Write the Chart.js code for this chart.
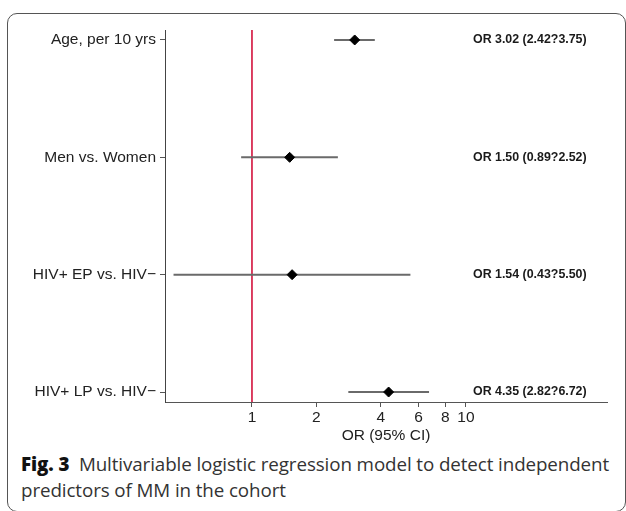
<!DOCTYPE html>
<html>
<head>
<meta charset="utf-8">
<script src="https://cdn.jsdelivr.net/npm/chart.js@4"></script>
<style>
  html, body { margin: 0; padding: 0; background: #fff; }
  #frame {
    position: absolute; left: 7px; top: 13px; width: 619px; height: 499px;
    box-sizing: border-box; border: 1px solid #555; border-radius: 10px;
  }
  #wrap { position: absolute; left: 0; top: 0; width: 626px; height: 450px; }
  #caption {
    position: absolute; left: 21px; top: 451px; white-space: nowrap;
    font-family: "Open Sans", sans-serif; font-size: 18.8px; line-height: 26px; color: #333;
    letter-spacing: -0.1px;
  }
  #caption b { color: #111; font-weight: 800; }
</style>
</head>
<body>
<div id="frame"></div>
<div id="wrap"><canvas id="chartCanvas" width="626" height="450"></canvas></div>
<div id="caption"><b>Fig. 3</b>&nbsp; Multivariable logistic regression model to detect independent<br>predictors of MM in the cohort</div>
<script>
const categories = ["Age, per 10 yrs", "Men vs. Women", "HIV+ EP vs. HIV\u2212", "HIV+ LP vs. HIV\u2212"];
const oddsRatios = [3.02, 1.50, 1.54, 4.35];
const lowerCI = [2.42, 0.89, 0.43, 2.82];
const upperCI = [3.75, 2.52, 5.50, 6.72];
const orLabels = ["OR 3.02 (2.42?3.75)", "OR 1.50 (0.89?2.52)", "OR 1.54 (0.43?5.50)", "OR 4.35 (2.82?6.72)"];
const xTicks = [1, 2, 4, 6, 8, 10];
const refValue = 1;

const rowIdx = categories.map((c, i) => i);
const axisFont = { family: "'Liberation Sans', Arial, sans-serif", size: 15.5 };

// error bars, one line per row
const ciSets = rowIdx.map(i => ({
  type: "line",
  data: [{ x: lowerCI[i], y: i }, { x: upperCI[i], y: i }],
  borderColor: "#6a6a6a",
  borderWidth: 2,
  pointRadius: 0,
  order: 2
}));

// 右侧 OR 文本
const orTextPlugin = {
  id: "orText",
  afterDatasetsDraw(chart) {
    const ctx = chart.ctx;
    const y = chart.scales.y;
    ctx.save();
    ctx.font = "bold 12.4px 'Liberation Sans', Arial, sans-serif";
    ctx.fillStyle = "#1a1a1a";
    ctx.textAlign = "left";
    ctx.textBaseline = "middle";
    orLabels.forEach((t, i) => ctx.fillText(t, 473, y.getPixelForValue(i)));
    ctx.restore();
  }
};

const ctx = document.getElementById("chartCanvas").getContext("2d");
new Chart(ctx, {
  type: "scatter",
  data: {
    datasets: [
      {
        type: "line",
        data: [{ x: refValue, y: -0.085 }, { x: refValue, y: 3.085 }],
        borderColor: "#d3123c",
        borderWidth: 1.6,
        pointRadius: 0,
        order: 3
      },
      ...ciSets,
      {
        data: rowIdx.map(i => ({ x: oddsRatios[i], y: i })),
        pointStyle: "rectRot",
        pointRadius: 5,
        backgroundColor: "#000",
        borderColor: "#000",
        borderWidth: 1,
        order: 1
      }
    ]
  },
  options: {
    responsive: false,
    animation: false,
    layout: { padding: { left: 0, right: 19, top: 30, bottom: 5 } },
    plugins: { legend: { display: false }, tooltip: { enabled: false } },
    scales: {
      x: {
        type: "logarithmic",
        min: 0.3923,
        max: 45.6,
        afterBuildTicks: s => { s.ticks = xTicks.map(v => ({ value: v })); },
        afterFit: s => { s.height = 43; },
        ticks: {
          autoSkip: false,
          maxRotation: 0,
          padding: 1,
          color: "#222",
          font: axisFont,
          callback: v => String(v)
        },
        grid: { drawOnChartArea: false, drawTicks: true, tickLength: 5, color: "#555" },
        border: { color: "#555", width: 1 },
        title: {
          display: true,
          text: "OR (95% CI)",
          color: "#222",
          padding: 0,
          font: axisFont
        }
      },
      y: {
        type: "linear",
        reverse: true,
        min: -0.085,
        max: 3.085,
        afterBuildTicks: s => { s.ticks = rowIdx.map(v => ({ value: v })); },
        afterFit: s => { s.width = 165; },
        ticks: {
          autoSkip: false,
          padding: 4,
          color: "#222",
          font: axisFont,
          callback: v => categories[v]
        },
        grid: { drawOnChartArea: false, drawTicks: true, tickLength: 5, color: "#555" },
        border: { color: "#444", width: 1 }
      }
    }
  },
  plugins: [orTextPlugin]
});
</script>
</body>
</html>
